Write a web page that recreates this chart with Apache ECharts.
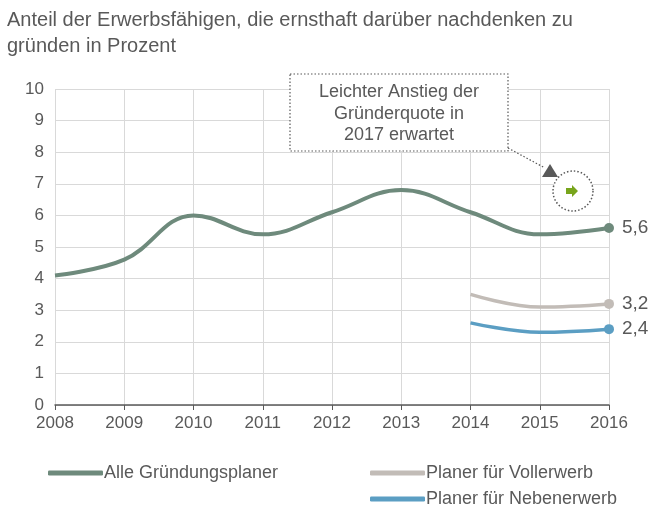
<!DOCTYPE html>
<html>
<head>
<meta charset="utf-8">
<script src="https://cdn.jsdelivr.net/npm/echarts@6/dist/echarts.min.js"></script>
<style>
  html, body { margin: 0; padding: 0; background: #fff; }
  #chart { width: 661px; height: 506px; }
</style>
</head>
<body>
<div id="chart"></div>
<script>
const years = ['2008', '2009', '2010', '2011', '2012', '2013', '2014', '2015', '2016']
const alleValues = [4.1, 4.6, 6.0, 5.4, 6.1, 6.8, 6.1, 5.4, 5.6]
const vollValues = [null, null, null, null, null, null, 3.5, 3.1, 3.2]
const nebenValues = [null, null, null, null, null, null, 2.6, 2.3, 2.4]
const seriesNames = ['Alle Gründungsplaner', 'Planer für Vollerwerb', 'Planer für Nebenerwerb']
const palette = ['#6e8a7c', '#c2bcb7', '#5b9ec3']
const textColor = '#595959'
const font = 'Liberation Sans, Arial, sans-serif'

const chart = echarts.init(document.getElementById('chart'))

// only the last point gets a marker and a value label
const withEndLabel = (values) => values.map((v, i) => {
  if (i !== values.length - 1) return v
  return {
    value: v,
    symbol: 'circle',
    symbolSize: 10,
    label: {
      show: true,
      position: 'right',
      distance: 8,
      color: textColor,
      fontSize: 19,
      fontFamily: font,
      formatter: String(v).replace('.', ',')
    }
  }
})

const makeSeries = (name, values, index, width) => ({
  name,
  type: 'line',
  smooth: 0.4,
  symbol: 'none',
  connectNulls: false,
  data: withEndLabel(values),
  itemStyle: { color: palette[index] },
  lineStyle: { width, color: palette[index] },
  emphasis: { disabled: true }
})

const makeLegend = (name, left, top) => ({
  left,
  top,
  data: [name],
  icon: 'roundRect',
  itemWidth: 55,
  itemHeight: 5,
  textStyle: { color: textColor, fontSize: 18, fontFamily: font, padding: [0, 0, 0, -4] }
})

chart.setOption({
  animation: false,
  textStyle: { fontFamily: font },
  title: {
    text: 'Anteil der Erwerbsfähigen, die ernsthaft darüber nachdenken zu\ngründen in Prozent',
    left: 2,
    top: 2,
    textStyle: { color: textColor, fontSize: 20, fontWeight: 'normal', lineHeight: 26, fontFamily: font }
  },
  legend: [
    makeLegend(seriesNames[0], 43, 459),
    makeLegend(seriesNames[1], 365, 459),
    makeLegend(seriesNames[2], 365, 485)
  ],
  grid: { left: 55, right: 52, top: 89, bottom: 101 },
  xAxis: {
    type: 'category',
    boundaryGap: false,
    data: years,
    axisLine: { lineStyle: { color: '#595959', width: 1.5 } },
    axisTick: { show: true, length: 5, lineStyle: { color: '#595959' } },
    axisLabel: { color: textColor, fontSize: 17, margin: 10 },
    splitLine: { show: true, lineStyle: { color: '#d9d9d9', width: 1 } }
  },
  yAxis: {
    type: 'value',
    min: 0,
    max: 10,
    interval: 1,
    axisLine: { show: false },
    axisTick: { show: false },
    axisLabel: { color: textColor, fontSize: 17, margin: 11 },
    splitLine: { lineStyle: { color: '#d9d9d9', width: 1 } }
  },
  series: [
    makeSeries(seriesNames[0], alleValues, 0, 4),
    makeSeries(seriesNames[1], vollValues, 1, 3.5),
    makeSeries(seriesNames[2], nebenValues, 2, 3.5)
  ],
  graphic: [
    {
      type: 'rect',
      shape: { x: 290, y: 74, width: 218, height: 77 },
      style: { fill: '#fff', stroke: '#595959', lineWidth: 1.2, lineDash: [1.5, 2] },
      z: 100
    },
    {
      type: 'text',
      x: 399,
      y: 114,
      style: {
        text: 'Leichter Anstieg der\nGründerquote in\n2017 erwartet',
        fill: textColor,
        font: '18px ' + font,
        align: 'center',
        verticalAlign: 'middle',
        lineHeight: 21.5
      },
      z: 101
    },
    {
      type: 'line',
      shape: { x1: 508, y1: 148, x2: 545, y2: 168 },
      style: { stroke: '#595959', lineWidth: 1.2, lineDash: [1.5, 2] },
      z: 100
    },
    {
      type: 'polygon',
      shape: { points: [[550, 164], [542, 177], [558, 177]] },
      style: { fill: '#595959' },
      z: 100
    },
    {
      type: 'circle',
      shape: { cx: 573, cy: 191, r: 20 },
      style: { fill: '#fff', stroke: '#595959', lineWidth: 1.5, lineDash: [1.5, 2] },
      z: 99
    },
    {
      type: 'polygon',
      shape: { points: [[566, 188], [572, 188], [572, 185], [578, 191], [572, 197], [572, 194], [566, 194]] },
      style: { fill: '#78a51c' },
      z: 101
    }
  ]
})
</script>
</body>
</html>
